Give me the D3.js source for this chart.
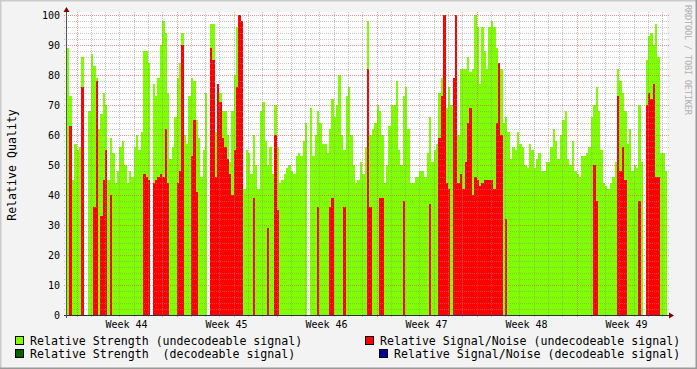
<!DOCTYPE html>
<html lang="en">
<head>
<meta charset="UTF-8">
<title>Relative Quality</title>
<script src="https://d3js.org/d3.v7.min.js"></script>
<style>
  body, html { margin: 0; padding: 0; overflow: hidden; background: #F3F3F3; }
  svg { display: block; }
  text { font-family: "DejaVu Sans Mono", monospace; white-space: pre; }
</style>
</head>
<body>
<script>
// one sample every 4 hours, first one Sun 26 Oct 2008 08:00 UTC
const startTime = Date.UTC(2008, 9, 26, 8);
const stepMs = 4 * 3600 * 1000;

// Relative Strength (undecodeable signal)
const strengthBad = [
  89,73,45,57,55,56,86,0,0,68,   87,83,79,62,67,74,70,45,59,54,
  44,48,56,58,50,44,48,46,56,60, 55,61,88,88,84,0,77,73,79,90,
  98,94,74,52,56,66,79,84,94,60, 57,73,79,78,65,59,46,55,74,0,
  97,97,61,73,74,68,68,60,51,68, 80,96,98,42,42,55,54,47,60,50,
  42,68,71,58,50,56,47,70,56,44, 45,47,49,50,48,47,53,54,53,58,
  64,0,69,53,60,68,64,57,57,54,  62,72,66,70,80,60,55,73,76,60,
  50,44,45,51,47,56,98,60,62,64, 70,68,60,44,50,63,70,70,78,55,
  50,73,76,62,44,44,46,46,48,48, 46,54,66,51,55,57,74,79,100,69,
  76,70,79,100,60,82,82,82,86,81, 82,100,96,77,96,88,82,96,98,96,
  89,84,82,64,66,61,52,56,55,61, 57,56,50,49,57,55,49,52,54,48,
  48,51,51,56,62,58,52,60,65,68, 52,50,58,48,47,46,53,53,54,56,
  66,70,76,68,55,44,43,42,44,46, 51,82,78,74,68,57,62,48,50,49,
  70,51,0,85,93,94,90,97,86,54,  54,48
];

// Relative Signal/Noise (undecodeable signal)
const snrBad = [
  0,63,0,0,0,0,76,0,0,0,      0,36,78,0,33,45,55,0,40,0,
  0,0,0,0,0,0,0,0,0,0,        0,0,47,46,45,0,44,45,46,47,
  46,62,44,0,0,0,44,48,90,0,  0,0,53,65,41,0,0,0,0,0,
  89,85,46,77,71,59,56,52,47,40, 55,76,100,98,0,0,0,0,39,0,
  0,0,0,0,29,0,0,60,35,0,     0,0,0,0,0,0,0,0,0,0,
  0,0,0,0,0,36,0,0,0,0,       36,39,0,0,0,0,36,0,0,0,
  0,0,0,0,0,0,82,36,0,0,      0,39,39,0,0,0,0,0,0,0,
  0,38,0,0,0,0,0,0,0,0,       0,0,37,0,0,0,59,73,100,44,
  42,0,79,100,44,47,42,51,64,69, 40,46,45,43,44,45,45,45,45,42,
  64,84,60,0,32,0,0,0,0,0,    0,0,0,0,0,0,0,0,0,0,
  0,0,0,0,0,0,0,0,0,0,        0,0,0,0,0,0,0,0,0,0,
  0,50,38,0,0,0,0,0,0,0,      0,73,48,56,45,0,0,0,0,0,
  38,0,0,70,74,72,77,46,46,0, 0,0
];

// decodeable signal: [sample index, value]
const strengthGood = [];
const snrGood = [];

const yTicks = [0, 10, 20, 30, 40, 50, 60, 70, 80, 90, 100];

const W = 697, H = 369;
const plotL = 67, plotR = 667, plotT = 15, plotB = 315;

const svg = d3.select("body").append("svg")
  .attr("width", W).attr("height", H);

// background + 3d frame
svg.append("rect").attr("width", W).attr("height", H).attr("fill", "#F3F3F3");
svg.append("path").attr("d", `M0,${H} V0 H${W}`).attr("fill", "none")
  .attr("stroke", "#CBCBCB").attr("stroke-width", 3);
svg.append("path").attr("d", `M0,${H} H${W} V0`).attr("fill", "none")
  .attr("stroke", "#999999").attr("stroke-width", 3);

const x = d3.scaleUtc()
  .domain([new Date(startTime), new Date(startTime + strengthBad.length * stepMs)])
  .range([plotL, plotR]);
const y = d3.scaleLinear().domain([0, 100]).range([plotB, plotT]);

// canvas
svg.append("rect")
  .attr("x", plotL).attr("y", plotT - 3)
  .attr("width", plotR - plotL).attr("height", plotB - plotT + 3)
  .attr("fill", "#FFFFFF");

function series(values) {
  const pts = values.map((v, i) => ({ t: new Date(startTime + i * stepMs), v }));
  pts.push({ t: new Date(startTime + values.length * stepMs), v: values[values.length - 1] });
  return pts;
}
function sparse(pairs) {
  const arr = new Array(strengthBad.length).fill(0);
  pairs.forEach(([i, v]) => arr[i] = v);
  return arr;
}

const area = d3.area()
  .curve(d3.curveStepAfter)
  .x(d => x(d.t))
  .y0(y(0))
  .y1(d => y(d.v));

const layers = [
  { values: strengthBad, color: "#7FFF00" },
  { values: snrBad, color: "#FF0000" },
  { values: sparse(strengthGood), color: "#006400" },
  { values: sparse(snrGood), color: "#000099" }
];
layers.forEach(l => {
  svg.append("path")
    .attr("d", area(series(l.values)))
    .attr("fill", l.color)
    .attr("shape-rendering", "crispEdges");
});

// grid (drawn on top, like rrdtool)
const grid = svg.append("g").attr("fill", "none").attr("stroke-dasharray", "1,1");
d3.range(0, 101, 2).forEach(v => {
  const yy = Math.round(y(v)) + 0.5;
  grid.append("line")
    .attr("x1", plotL - 3).attr("x2", plotR + 2)
    .attr("y1", yy).attr("y2", yy)
    .attr("stroke", v % 10 === 0 ? "rgba(222,80,80,0.6)" : "rgba(143,143,143,0.5)");
});
const days = d3.utcDay.range(x.domain()[0], x.domain()[1]);
days.forEach(d => {
  const xx = Math.round(x(d)) + 0.5;
  const major = d.getUTCDay() === 1;
  grid.append("line")
    .attr("x1", xx).attr("x2", xx)
    .attr("y1", plotT - 3).attr("y2", plotB + 3)
    .attr("stroke", major ? "rgba(222,80,80,0.6)" : "rgba(143,143,143,0.5)");
});

// axes
svg.append("line")
  .attr("x1", plotL - 3).attr("x2", plotR + 3)
  .attr("y1", plotB + 0.5).attr("y2", plotB + 0.5)
  .attr("stroke", "#2C2D4A");
svg.append("path")
  .attr("d", `M${plotR + 2},${plotB - 2.5} L${plotR + 7},${plotB + 0.5} L${plotR + 2},${plotB + 3.5} Z`)
  .attr("fill", "#7F0000");
svg.append("line")
  .attr("x1", plotL - 0.5).attr("x2", plotL - 0.5)
  .attr("y1", plotB + 3).attr("y2", plotT - 4)
  .attr("stroke", "#555555");
svg.append("path")
  .attr("d", `M${plotL - 3.5},${plotT - 3} L${plotL - 0.5},${plotT - 8} L${plotL + 2.5},${plotT - 3} Z`)
  .attr("fill", "#7F0000");

// y labels
svg.append("g").selectAll("text")
  .data(yTicks)
  .join("text")
  .attr("x", plotL - 7)
  .attr("y", d => y(d))
  .attr("dy", "0.35em")
  .attr("text-anchor", "end")
  .attr("font-size", 10)
  .attr("fill", "#000")
  .text(d => d);

// week labels centred in each week
const weeks = d3.utcMonday.range(x.domain()[0], x.domain()[1]);
const fmtWeek = d3.utcFormat("Week %V");
svg.append("g").selectAll("text")
  .data(weeks)
  .join("text")
  .attr("x", d => x(d3.utcHour.offset(d, 84)))
  .attr("y", 328)
  .attr("text-anchor", "middle")
  .attr("font-size", 10)
  .attr("fill", "#000")
  .text(d => fmtWeek(d));

// y title
svg.append("text")
  .attr("transform", "translate(16,165) rotate(-90)")
  .attr("text-anchor", "middle")
  .attr("font-size", 11.6)
  .attr("fill", "#000")
  .text("Relative Quality");

// watermark
svg.append("text")
  .attr("transform", "translate(685,5) rotate(90)")
  .attr("font-size", 8.6)
  .attr("textLength", 110)
  .attr("lengthAdjust", "spacing")
  .attr("fill", "#B0B0B0")
  .text("RRDTOOL / TOBI OETIKER");

// legend
const legend = [
  { label: "Relative Strength (undecodeable signal)", color: "#7FFF00", bx: 15, tx: 30, row: 0 },
  { label: "Relative Signal/Noise (undecodeable signal)", color: "#FF0000", bx: 365, tx: 380, row: 0 },
  { label: "Relative Strength  (decodeable signal)", color: "#006400", bx: 15, tx: 30, row: 1 },
  { label: "Relative Signal/Noise (decodeable signal)", color: "#000099", bx: 379, tx: 394, row: 1 }
];
const lg = svg.append("g");
legend.forEach(d => {
  lg.append("rect")
    .attr("x", d.bx + 0.5).attr("y", 336.5 + d.row * 13)
    .attr("width", 8).attr("height", 8)
    .attr("fill", d.color).attr("stroke", "#000");
  lg.append("text")
    .attr("x", d.tx).attr("y", 345 + d.row * 13)
    .attr("font-size", 11.6)
    .attr("fill", "#000")
    .text(d.label);
});
</script>
</body>
</html>
